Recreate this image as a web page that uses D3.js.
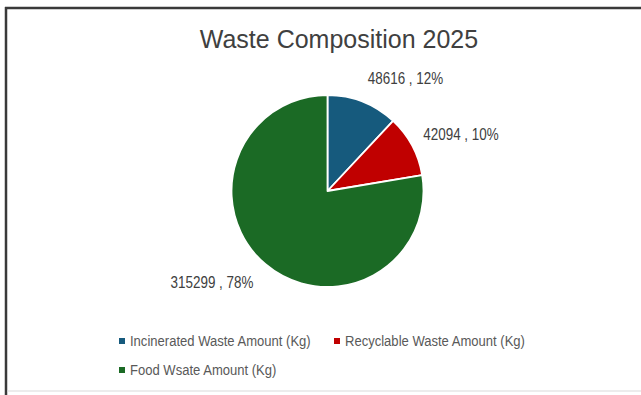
<!DOCTYPE html>
<html>
<head>
<meta charset="utf-8">
<script src="https://cdn.jsdelivr.net/npm/d3@7"></script>
<style>
  html, body { margin: 0; padding: 0; background: #fff; }
  svg { display: block; }
  text { font-family: "Liberation Sans", Arial, sans-serif; }
</style>
</head>
<body>
<svg id="chart" width="641" height="395"></svg>
<script>
// Waste amounts by stream, 2025 (kg)
const categories = [
  "Incinerated Waste Amount (Kg)",
  "Recyclable Waste Amount (Kg)",
  "Food Wsate Amount (Kg)"
];
const amounts = [48616, 42094, 315299];
const percentLabels = ["12%", "10%", "78%"];
const colors = ["#165a7d", "#c00000", "#1b6a25"];

const svg = d3.select("#chart");
const W = 641, H = 395;

// chart frame
svg.append("rect").attr("x", 0).attr("y", 0).attr("width", W).attr("height", H).attr("fill", "#fff");
svg.append("line").attr("x1", 5).attr("x2", W).attr("y1", 8).attr("y2", 8)
  .attr("stroke", "#3a3a3a").attr("stroke-width", 2.5);
svg.append("line").attr("x1", 6).attr("x2", 6).attr("y1", 7).attr("y2", H)
  .attr("stroke", "#3a3a3a").attr("stroke-width", 2.5);
svg.append("line").attr("x1", 7).attr("x2", W).attr("y1", 391).attr("y2", 391)
  .attr("stroke", "#d9d9d9").attr("stroke-width", 1);

// title
svg.append("text")
  .attr("x", 339).attr("y", 48)
  .attr("text-anchor", "middle")
  .attr("font-size", 25)
  .attr("fill", "#404040")
  .text("Waste Composition 2025");

// pie
const cx = 327.5, cy = 191, r = 96;
const data = categories.map((c, i) => ({ name: c, value: amounts[i], pct: percentLabels[i], color: colors[i] }));
const pie = d3.pie().sort(null).value(d => d.value);
const arcs = pie(data);
const arc = d3.arc().innerRadius(0).outerRadius(r);

const g = svg.append("g").attr("transform", `translate(${cx},${cy})`);
g.selectAll("path")
  .data(arcs)
  .join("path")
  .attr("d", arc)
  .attr("fill", d => d.data.color)
  .attr("stroke", "#fff")
  .attr("stroke-width", 1.8)
  .attr("stroke-linejoin", "round");

// data labels placed outside each slice, in a condensed face
const labelPos = [
  { dx: 78, dy: -112 },
  { dx: 133.5, dy: -56 },
  { dx: -115.5, dy: 92 }
];
g.selectAll("g.lbl")
  .data(arcs)
  .join("g")
  .attr("class", "lbl")
  .attr("transform", (d, i) => `translate(${labelPos[i].dx},${labelPos[i].dy}) scale(0.84,1)`)
  .append("text")
  .attr("text-anchor", "middle")
  .attr("dominant-baseline", "central")
  .attr("font-size", 16)
  .attr("fill", "#404040")
  .text(d => `${d.data.value} , ${d.data.pct}`);

// legend
const legendItems = [
  { x: 122, y: 341 },
  { x: 337, y: 341 },
  { x: 122, y: 370 }
];
const items = svg.append("g").selectAll("g")
  .data(data)
  .join("g")
  .attr("transform", (d, i) => `translate(${legendItems[i].x},${legendItems[i].y})`);
items.append("rect")
  .attr("x", -3).attr("y", -3).attr("width", 6).attr("height", 6)
  .attr("fill", d => d.color);
items.append("g")
  .attr("transform", "translate(8,0) scale(0.87,1)")
  .append("text")
  .attr("dominant-baseline", "central")
  .attr("font-size", 15)
  .attr("fill", "#595959")
  .text(d => d.name);
</script>
</body>
</html>
